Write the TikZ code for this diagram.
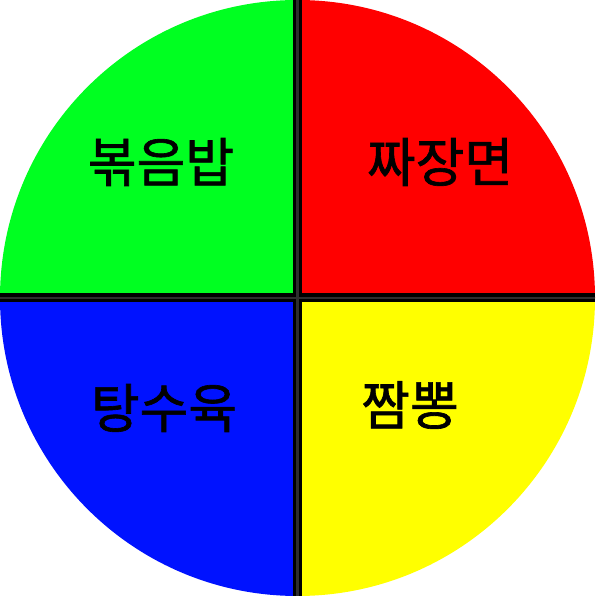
\documentclass[tikz,border=0pt]{standalone}
\usepackage{fontspec}
\newfontfamily\kofont[FakeBold=1.2]{Noto Sans CJK KR}
\usetikzlibrary{positioning}
\definecolor{qgreen}{RGB}{0,255,33}
\definecolor{qred}{RGB}{255,0,0}
\definecolor{qblue}{RGB}{0,18,255}
\definecolor{qyellow}{RGB}{255,255,0}

\begin{document}
\begin{tikzpicture}[x=1pt,y=1pt,
  lbl/.style={font=\kofont\fontsize{53}{63}\selectfont,inner sep=0pt},
  sep/.style={line width=9pt,black},
  sepcore/.style={line width=2.5pt,black!82}]
  \useasboundingbox (0,0) rectangle (595,597);
  \coordinate (c) at (297.5,299);
  % quadrants
  \fill[qgreen]  (c) -- ++(0,298) arc (90:180:297.5 and 298) -- cycle;
  \fill[qred]    (c) -- ++(297.5,0) arc (0:90:297.5 and 298) -- cycle;
  \fill[qblue]   (c) -- ++(-297.5,0) arc (180:270:297.5 and 298) -- cycle;
  \fill[qyellow] (c) -- ++(0,-298) arc (270:360:297.5 and 298) -- cycle;
  % dividers
  \coordinate (n) at (297.5,597); \coordinate (s) at (297.5,1);
  \coordinate (w) at (0,299); \coordinate (e) at (595,299);
  \draw[sep] (n) -- (s); \draw[sep] (w) -- (e);
  \draw[sepcore] (n) -- (s); \draw[sepcore] (w) -- (e);
  % labels
  \node[lbl] (bokk) at (161,435) {볶음밥};
  \node[lbl] (jjaj) at (440,435) {짜장면};
  \node[lbl] (tang) at (164,189) {탕수육};
  \node[lbl] (jjam) at (410,192) {짬뽕};
\end{tikzpicture}
\end{document}
